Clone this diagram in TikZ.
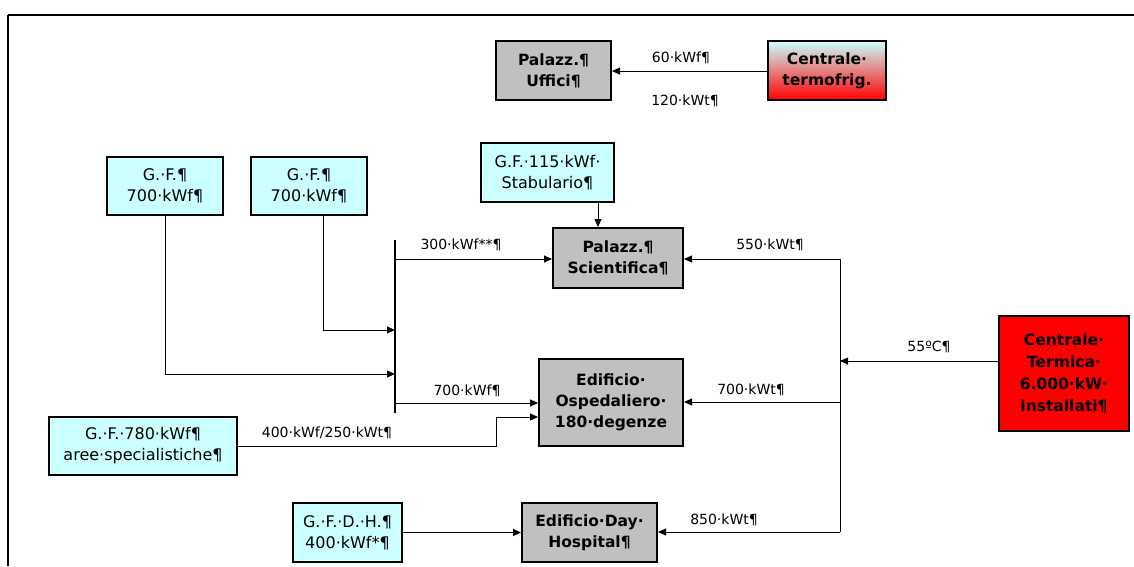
\documentclass[tikz,border=0pt]{standalone}
\usepackage{fontspec}
\setmainfont{DejaVu Sans}
\usetikzlibrary{arrows.meta}
\definecolor{gfcyan}{HTML}{CCFFFF}
\definecolor{bgray}{HTML}{C0C0C0}
\definecolor{hot}{HTML}{FF0000}
\tikzset{
  box/.style={draw=black, line width=2pt, inner sep=1pt, align=center, font=\fontsize{16}{21}\selectfont},
  gfbox/.style={box, fill=gfcyan},
  bldbox/.style={box, fill=bgray, font=\fontsize{15.5}{21}\selectfont\bfseries},
  lbl/.style={font=\fontsize{14}{16}\selectfont, inner sep=0pt},
  conn/.style={line width=0.9pt, -{Triangle[length=8pt,width=7pt]}},
  plain/.style={line width=0.9pt},
  bus/.style={line width=1.8pt}
}
\begin{document}
\begin{tikzpicture}[x=1pt,y=-1pt]
\useasboundingbox (0,0) rectangle (1134,566);
\fill[white] (0,0) rectangle (1134,566);
% frame
\draw[line width=2pt] (8,15) -- (1134,15);
\draw[line width=1.2pt] (8,15) -- (8,566);

% boxes
\node[bldbox, minimum width=115pt, minimum height=59pt] (uffici) at (553.5,70.5) {Palazz.¶\\Uffici¶};
\node[box, top color=gfcyan, bottom color=hot, font=\fontsize{15.5}{21}\selectfont\bfseries, minimum width=118pt, minimum height=59pt] (termofrig) at (827,70.5) {Centrale·\\termofrig.};
\node[gfbox, minimum width=116pt, minimum height=58pt] (gf1) at (165,186) {G.·F.¶\\700·kWf¶};
\node[gfbox, minimum width=116pt, minimum height=58pt] (gf2) at (309,186) {G.·F.¶\\700·kWf¶};
\node[gfbox, minimum width=133pt, minimum height=59pt] (gf115) at (547.5,172.5) {G.F.·115·kWf·\\Stabulario¶};
\node[bldbox, minimum width=130pt, minimum height=60pt] (scient) at (618,258) {Palazz.¶\\Scientifica¶};
\node[bldbox, minimum width=144pt, minimum height=87pt] (osped) at (611,402.5) {Edificio·\\Ospedaliero·\\180·degenze};
\node[gfbox, minimum width=188pt, minimum height=58pt] (gf780) at (143,446) {G.·F.·780·kWf¶\\aree·specialistiche¶};
\node[gfbox, minimum width=109pt, minimum height=59pt] (gfdh) at (347.5,532.5) {G.·F.·D.·H.¶\\400·kWf*¶};
\node[bldbox, minimum width=135pt, minimum height=59pt] (dayh) at (589.5,532.5) {Edificio·Day·\\Hospital¶};
\node[box, fill=hot, font=\fontsize{15.5}{22}\selectfont\bfseries, minimum width=130pt, minimum height=115pt] (termica) at (1064,373.5) {Centrale·\\Termica·\\6.000·kW·\\installati¶};

% coordinates
\coordinate (bl1) at (395,240);
\coordinate (bl2) at (395,413);
\coordinate (br1) at (840,259);
\coordinate (br2) at (840,532);

% buses
\draw[bus] (bl1) -- (bl2);
\draw[plain] (br1) -- (br2);

% connectors
\draw[conn] (termofrig.west |- 0,71) -- (uffici.east |- 0,71);
\draw[conn] (598,0 |- gf115.south) -- (598,0 |- scient.north);
\draw[conn] (323,0 |- gf2.south) -- (323,330) -- (395,330);
\draw[conn] (gf1.south) -- (165,374) -- (395,374);
\draw[conn] (395,259) -- (scient.west |- 0,259);
\draw[conn] (395,403) -- (osped.west |- 0,403);
\draw[conn] (gf780.east) -- (496,446) -- (496,417) -- (osped.west |- 0,417);
\draw[conn] (gfdh.east) -- (dayh.west);
\draw[conn] (br1) -- (scient.east |- br1);
\draw[conn] (840,402) -- (osped.east |- 0,402);
\draw[conn] (br2) -- (dayh.east |- br2);
\draw[conn] (termica.west |- 0,361) -- (840,361);

% labels
\node[lbl] (l60) at (681,58) {60·kWf¶};
\node[lbl] (l120) at (685,101) {120·kWt¶};
\node[lbl] (l300) at (461,245) {300·kWf**¶};
\node[lbl] (l550) at (770,245) {550·kWt¶};
\node[lbl] (l55) at (929,347) {55ºC¶};
\node[lbl] (l700f) at (467,391) {700·kWf¶};
\node[lbl] (l700t) at (751,390) {700·kWt¶};
\node[lbl] (l400) at (327,433) {400·kWf/250·kWt¶};
\node[lbl] (l850) at (724,520) {850·kWt¶};
\end{tikzpicture}
\end{document}
